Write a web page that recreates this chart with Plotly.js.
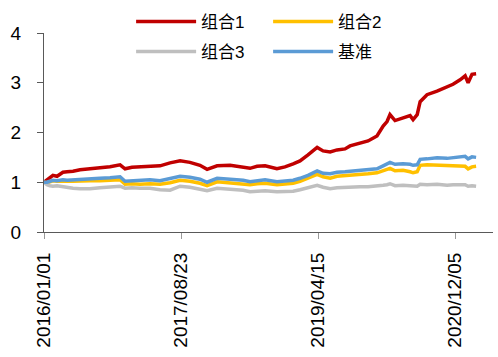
<!DOCTYPE html>
<html><head><meta charset="utf-8">
<script src="https://cdn.plot.ly/plotly-3.0.1.min.js"></script>
<style>html,body{margin:0;padding:0;background:#fff}#c{width:498px;height:357px}</style>
</head><body><div id="c"></div>
<script>
const dates = ["2016-01-01","2016-01-14","2016-01-27","2016-02-09","2016-02-27","2016-03-24","2016-04-11","2016-05-07","2016-06-07","2016-07-20","2016-09-02","2016-10-16","2016-11-29","2016-12-21","2017-01-20","2017-02-24","2017-04-09","2017-05-23","2017-07-06","2017-08-19","2017-10-01","2017-11-14","2017-12-15","2018-01-28","2018-03-26","2018-05-22","2018-06-21","2018-07-22","2018-08-26","2018-10-17","2018-11-21","2018-12-27","2019-01-26","2019-03-02","2019-04-11","2019-05-07","2019-06-07","2019-07-07","2019-08-11","2019-09-02","2019-10-16","2019-11-20","2019-12-29","2020-01-25","2020-02-11","2020-02-24","2020-03-17","2020-04-21","2020-05-22","2020-06-04","2020-06-22","2020-07-05","2020-08-04","2020-09-17","2020-10-31","2020-11-26","2020-12-27","2021-01-18","2021-01-31","2021-02-17","2021-03-07"];
const combo1 = [1.00,1.05,1.08,1.14,1.12,1.20,1.21,1.22,1.25,1.27,1.30,1.31,1.35,1.27,1.30,1.31,1.33,1.33,1.39,1.43,1.40,1.34,1.26,1.33,1.34,1.31,1.28,1.32,1.33,1.27,1.31,1.37,1.43,1.55,1.70,1.63,1.61,1.65,1.67,1.73,1.78,1.83,1.93,2.13,2.22,2.36,2.24,2.30,2.34,2.26,2.36,2.62,2.76,2.83,2.91,2.97,3.06,3.14,3.00,3.17,3.18];
const combo2 = [1.00,0.99,1.01,1.03,1.02,1.03,1.02,1.02,1.03,1.03,1.03,1.04,1.05,0.96,0.97,0.96,0.97,0.96,0.99,1.04,1.02,0.98,0.93,1.01,0.99,0.97,0.95,0.97,0.98,0.95,0.96,0.98,1.02,1.08,1.16,1.11,1.08,1.12,1.13,1.14,1.16,1.17,1.19,1.23,1.25,1.28,1.23,1.24,1.21,1.19,1.21,1.34,1.35,1.34,1.33,1.33,1.33,1.32,1.27,1.31,1.32];
const combo3 = [1.00,0.95,0.93,0.92,0.93,0.91,0.89,0.88,0.87,0.87,0.89,0.90,0.92,0.88,0.89,0.88,0.88,0.85,0.84,0.92,0.90,0.86,0.83,0.88,0.86,0.84,0.81,0.82,0.83,0.81,0.82,0.82,0.85,0.89,0.94,0.90,0.87,0.89,0.90,0.90,0.91,0.91,0.92,0.94,0.95,0.97,0.93,0.94,0.93,0.92,0.92,0.96,0.95,0.96,0.94,0.95,0.94,0.95,0.92,0.93,0.92];
const bench  = [1.00,1.00,1.02,1.04,1.03,1.05,1.04,1.05,1.06,1.07,1.08,1.09,1.11,1.02,1.03,1.03,1.05,1.03,1.07,1.12,1.10,1.06,1.00,1.08,1.06,1.04,1.01,1.03,1.05,1.01,1.02,1.04,1.08,1.14,1.23,1.18,1.17,1.20,1.21,1.22,1.24,1.25,1.27,1.33,1.36,1.40,1.36,1.37,1.36,1.34,1.35,1.46,1.47,1.49,1.48,1.49,1.50,1.52,1.47,1.51,1.50];
const names = ["组合1","组合2","组合3","基准"];
const colors = ["#C00000","#FFC000","#BFBFBF","#5B9BD5"];
const tickDates = ["2016-01-01","2017-08-23","2019-04-15","2020-12-05"];
const tickText = ["2016/01/01","2017/08/23","2019/04/15","2020/12/05"];
const series = [combo1, combo2, combo3, bench];
const legendOf = ["legend","legend","legend2","legend2"];

const font = '"Liberation Sans", Arial, "Noto Sans CJK SC", sans-serif';
const traces = series.map((s,i)=>({
  x: dates, y: s, name: names[i], type:'scatter', mode:'lines', legend: legendOf[i],
  line:{color:colors[i], width:3.5}
}));
const legBase = {orientation:'h', xanchor:'left', yanchor:'top',
    font:{size:17, family:font}, itemwidth:60, entrywidth:62, entrywidthmode:'pixels',
    bgcolor:'rgba(0,0,0,0)', borderwidth:0};
const layout = {
  width:498, height:357,
  margin:{l:44, r:5, t:32, b:125},
  paper_bgcolor:'#fff', plot_bgcolor:'#fff',
  font:{family:font, color:'#000'},
  showlegend:true,
  legend:Object.assign({}, legBase, {x:0.194, y:1.14}),
  legend2:Object.assign({}, legBase, {x:0.194, y:0.99}),
  xaxis:{type:'date', range:['2016-01-01','2021-05-20'], tickmode:'array', tickvals:tickDates, ticktext:tickText,
    tickangle:-90, ticks:'outside', ticklen:6, tickcolor:'#999', showgrid:false, zeroline:false,
    showline:true, linecolor:'#595959', linewidth:1, tickfont:{size:19, family:font}, ticklabelstandoff:6},
  yaxis:{range:[0,4], tickvals:[0,1,2,3,4], ticks:'outside', ticklen:6, tickcolor:'#595959',
    showgrid:false, zeroline:false, showline:true, linecolor:'#595959', linewidth:1,
    tickfont:{size:19, family:font}, ticklabelstandoff:12}
};
Plotly.newPlot('c', traces, layout, {displayModeBar:false, staticPlot:true});
</script></body></html>
